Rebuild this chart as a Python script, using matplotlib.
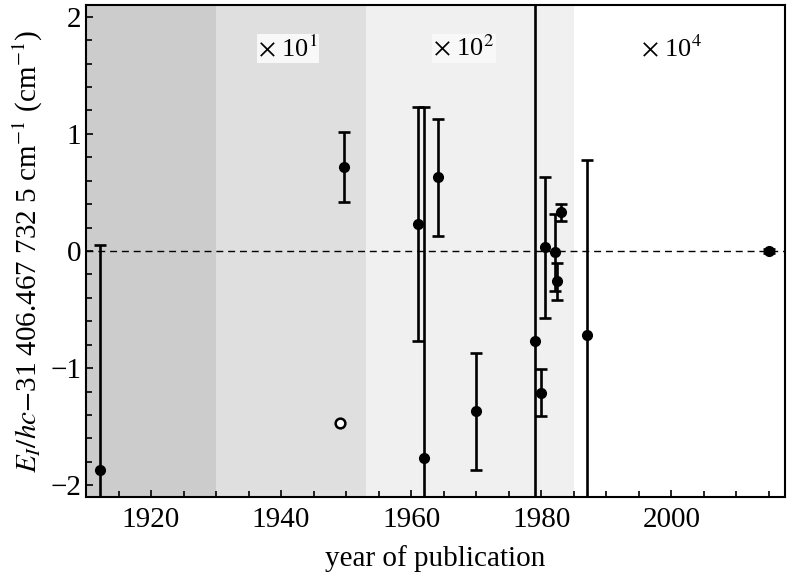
import matplotlib
matplotlib.use("Agg")
import matplotlib.pyplot as plt
from matplotlib.ticker import MultipleLocator

plt.rcParams["font.family"] = ["Liberation Serif", "DejaVu Serif"]
plt.rcParams["mathtext.fontset"] = "stix"

# ----- data --------------------------------------------------------------
years = [1912.2, 1949.6, 1961.0, 1962.0, 1964.1, 1970.0, 1979.1, 1980.0,
         1980.6, 1982.05, 1982.5, 1983.0, 1987.0, 2015.0]
values = [-1.87, 0.72, 0.23, -1.77, 0.63, -1.37, -0.77, -1.21,
          0.03, -0.01, -0.26, 0.33, -0.72, 0.0]
errors = [1.92, 0.30, 1.0, 3.0, 0.5, 0.5, 5.0, 0.2,
          0.6, 0.33, 0.16, 0.07, 1.5, 0.015]

open_year = [1949.1]
open_value = [-1.47]

band_edges = [1910, 1930, 1953, 1985]
band_colors = ["#cccccc", "#dfdfdf", "#f0f0f0"]
band_labels = [r"$\times$ 10$^{1}$", r"$\times$ 10$^{2}$", r"$\times$ 10$^{4}$"]
label_years = [1941.1, 1968.1, 2000.0]

# ----- figure -------------------------------------------------------------
fig = plt.figure(figsize=(7.89, 5.81), dpi=100)
ax = fig.add_axes([0.109, 0.1446, 0.886, 0.8468])

for lo, hi, c in zip(band_edges[:-1], band_edges[1:], band_colors):
    ax.axvspan(lo, hi, color=c, lw=0, zorder=0)

ax.axhline(0, color="black", lw=1.0, ls=(0, (5, 3.5)), zorder=1)

ax.errorbar(years, values, yerr=errors, fmt="o", color="black",
            ms=7, elinewidth=1.9, capsize=4, capthick=1.9, zorder=3)
ax.plot(open_year, open_value, "o", ms=7, mfc="white", mec="black",
        mew=1.8, zorder=3)

for x, s, bg in zip(label_years, band_labels, ["#f8f8f8", "#f8f8f8", "white"]):
    ax.text(x, 1.73, s, ha="center", va="center", fontsize=19,
            bbox=dict(boxstyle="square,pad=0.05", fc=bg, ec="none"),
            zorder=4)

ax.set_xlim(1910, 2017.5)
ax.set_ylim(-2.1, 2.1)
ax.xaxis.set_major_locator(MultipleLocator(20))
ax.xaxis.set_minor_locator(MultipleLocator(5))
ax.yaxis.set_major_locator(MultipleLocator(1))
ax.yaxis.set_minor_locator(MultipleLocator(0.2))
ax.tick_params(which="both", direction="in", width=1.2, labelsize=21)
ax.tick_params(which="major", length=5)
ax.tick_params(which="minor", length=4)
ax.tick_params(axis="x", which="major", pad=7)
for sp in ax.spines.values():
    sp.set_linewidth(1.5)

ax.set_xlabel("year of publication", fontsize=21, labelpad=9)
ax.set_ylabel(r"$E_{I}/hc$$-$31 406.467 732 5 cm$^{-1}$ (cm$^{-1}$)",
              fontsize=21, labelpad=4)

fig.savefig("out.png", dpi=100)
